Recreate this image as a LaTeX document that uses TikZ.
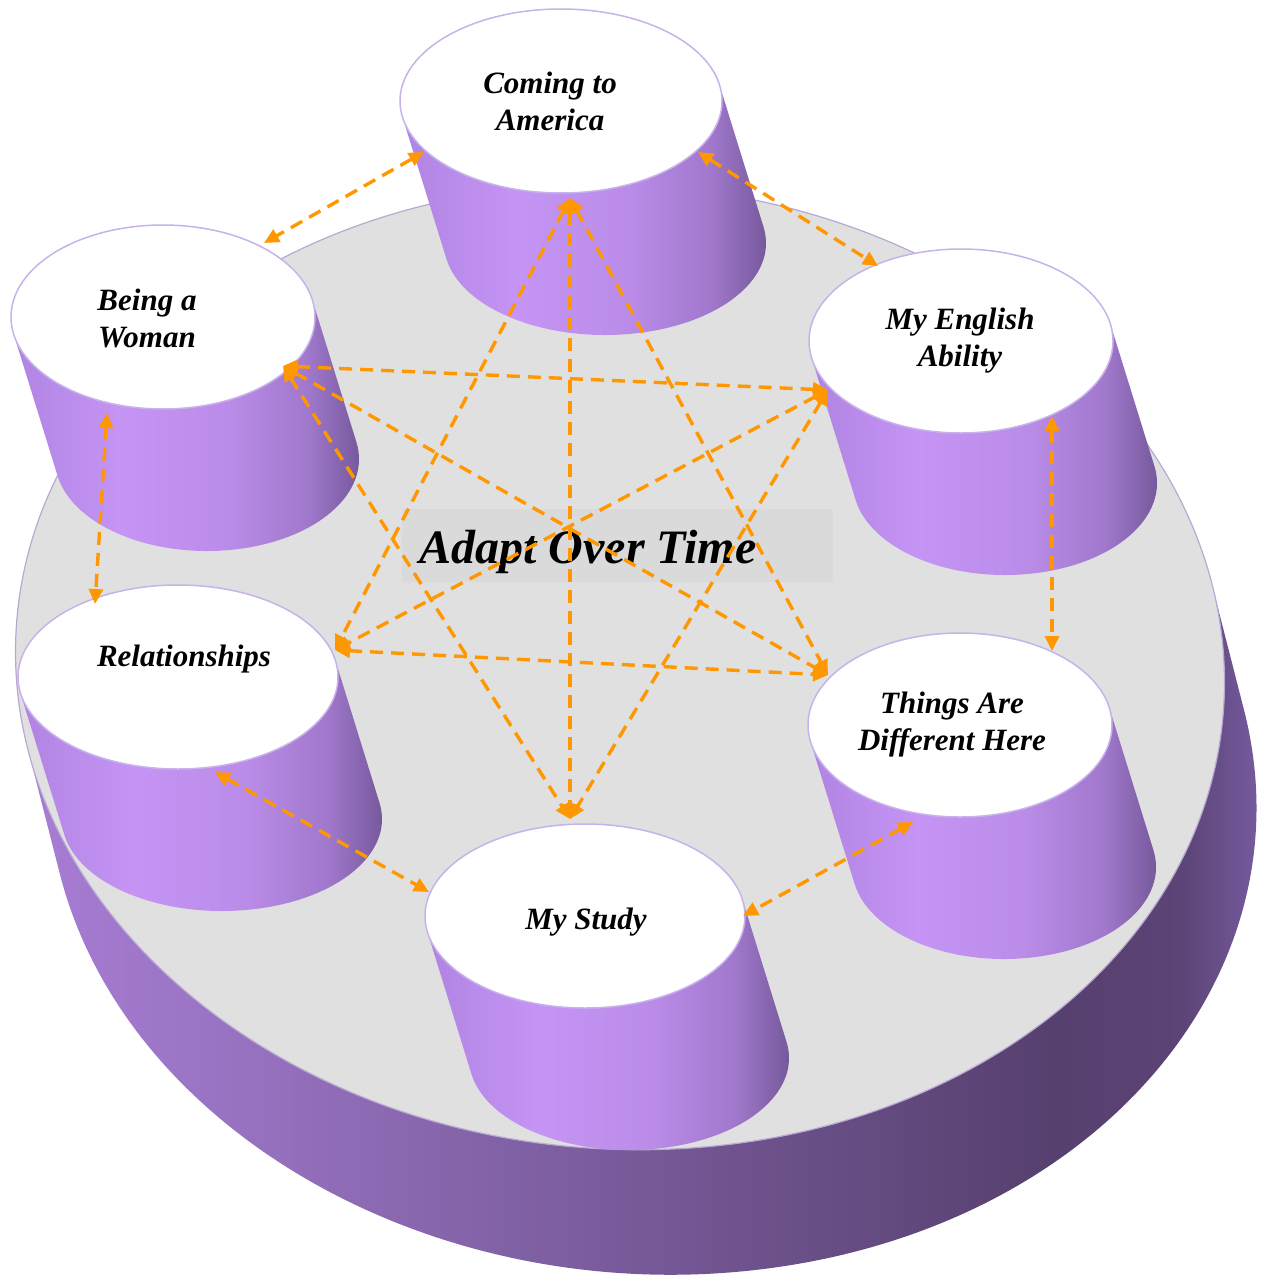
\documentclass[tikz,border=0pt]{standalone}
\usepackage{fontspec}
\setmainfont{Liberation Serif}
\usetikzlibrary{arrows.meta}

\definecolor{linkorange}{RGB}{255,152,0}
\definecolor{platgray}{RGB}{224,224,224}
\definecolor{boxgray}{RGB}{218,218,218}
\definecolor{rimlilac}{RGB}{200,178,234}
\definecolor{platrim}{RGB}{184,168,210}
% cylinder side
\definecolor{cylA}{RGB}{176,132,226}
\definecolor{cylB}{RGB}{197,148,245}
\definecolor{cylC}{RGB}{186,140,232}
\definecolor{cylD}{RGB}{160,120,204}
\definecolor{cylE}{RGB}{108,82,144}
% platform side
\definecolor{baseA}{RGB}{168,124,212}
\definecolor{baseB}{RGB}{154,116,196}
\definecolor{baseC}{RGB}{112,84,144}
\definecolor{baseD}{RGB}{86,64,110}
\definecolor{baseE}{RGB}{92,68,118}
\definecolor{baseF}{RGB}{118,90,158}
\definecolor{baseG}{RGB}{142,109,180}

\pgfdeclarehorizontalshading{cylside}{100bp}{color(0bp)=(cylA); color(25bp)=(cylA);
  color(40bp)=(cylB); color(55bp)=(cylC); color(66bp)=(cylD); color(75bp)=(cylE); color(100bp)=(cylE)}
\pgfdeclarehorizontalshading{baseside}{100bp}{color(0bp)=(baseA); color(25bp)=(baseA);
  color(32bp)=(baseB); color(52bp)=(baseC); color(65bp)=(baseD); color(70bp)=(baseE);
  color(73bp)=(baseF); color(75bp)=(baseG); color(100bp)=(baseG)}

\tikzset{
  cyltop/.style={fill=white, draw=rimlilac, line width=1.5pt},
  cyllabel/.style={align=center, font=\fontsize{31}{37}\selectfont\bfseries\itshape},
  link/.style={linkorange, line width=3.4pt, dash pattern=on 13pt off 8pt,
    {Triangle[length=15pt,width=14pt]}-{Triangle[length=15pt,width=14pt]}}
}

\begin{document}
\begin{tikzpicture}[x=1pt, y=-1pt]
    \useasboundingbox (0,0) rectangle (1261,1279);

    % Platform
    \begin{scope}[shift={(620,667)}, rotate=-4]
        \shade[shading=baseside] (194.7:605pt and 482pt) -- ++(40.6,122.5)
            arc[start angle=194.7, end angle=374.7, x radius=605pt, y radius=482pt]
            -- ++(-40.6,-122.5) -- cycle;
        \draw[platrim, line width=1.2pt, fill=platgray] (0,0) ellipse[x radius=605pt, y radius=482pt];
    \end{scope}

    % Cylinders
    \foreach \name/\cx/\cy/\rx in {coming/561/101/161, woman/163/317/152,
        english/961/341/152, relation/178/677/160, things/960/725/152, study/585/916/160} {
        \pgfmathsetmacro\ta{180+atan(44*92/142/\rx)}
        \pgfmathsetmacro\tb{\ta+180}
        \shade[shading=cylside] (\cx,\cy) ++(\ta:\rx pt and 92pt) -- ++(44,142)
            arc[start angle=\ta, end angle=\tb, x radius=\rx pt, y radius=92pt]
            -- ++(-44,-142) -- cycle;
        \draw[cyltop] (\cx,\cy) ellipse[x radius=\rx pt, y radius=92pt];
    }

    % Labels
    \node[cyllabel] (coming) at (550,101) {Coming to\\America};
    \node[cyllabel] (woman) at (147,318) {Being a\\Woman};
    \node[cyllabel] (english) at (960,341) {My English\\Ability};
    \node[cyllabel] (relation) at (184,659) {Relationships};
    \node[cyllabel] (things) at (952,725) {Things Are\\Different Here};
    \node[cyllabel] (study) at (586,922) {My Study};

    % Centre title
    \fill[boxgray] (402,509) rectangle (833,582);
    \node[font=\fontsize{48}{56}\selectfont\bfseries\itshape, anchor=base] (title) at (588,563) {Adapt Over Time};

    % Link ends
    \coordinate (coming-w) at (424,152);
    \coordinate (coming-e) at (698,152);
    \coordinate (coming-s) at (570,198);
    \coordinate (woman-ne) at (264,243);
    \coordinate (woman-e) at (283,366);
    \coordinate (woman-s) at (107,413);
    \coordinate (english-nw) at (878,266);
    \coordinate (english-w) at (828,390);
    \coordinate (english-s) at (1052,416);
    \coordinate (relation-n) at (95,604);
    \coordinate (relation-e) at (335,650);
    \coordinate (relation-s) at (215,772);
    \coordinate (things-n) at (1052,651);
    \coordinate (things-w) at (828,675);
    \coordinate (things-s) at (913,822);
    \coordinate (study-n) at (570,819);
    \coordinate (study-w) at (429,892);
    \coordinate (study-e) at (743,916);

    % Links
    \foreach \src/\dst in {coming-w/woman-ne, coming-e/english-nw, woman-s/relation-n,
        english-s/things-n, relation-s/study-w, things-s/study-e,
        coming-s/study-n, coming-s/relation-e, coming-s/things-w,
        woman-e/english-w, woman-e/things-w, woman-e/study-n,
        english-w/relation-e, english-w/study-n, relation-e/things-w} {
        \draw[link] (\src) -- (\dst);
    }
\end{tikzpicture}
\end{document}
